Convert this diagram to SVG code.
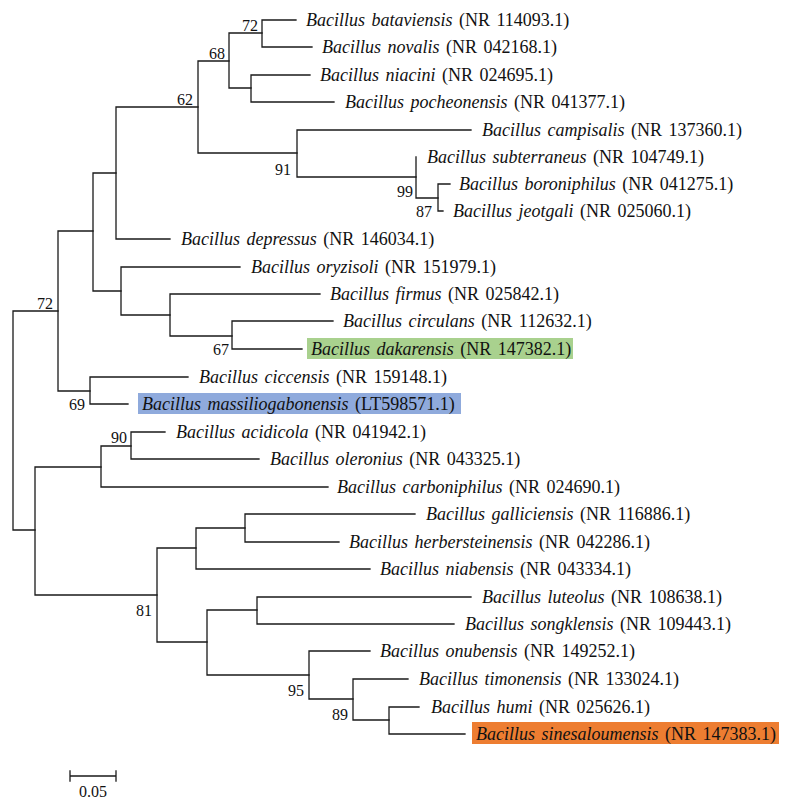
<svg xmlns="http://www.w3.org/2000/svg" width="787" height="802" viewBox="0 0 787 802">
<style>
.br{fill:none;stroke:#1a1a1a;stroke-width:1.3;stroke-linecap:square}
.lf{font-family:"Liberation Serif","Times New Roman",serif;font-size:18px;fill:#111;word-spacing:2px}
.lf .sp{font-style:italic}
.bs{font-family:"Liberation Serif","Times New Roman",serif;font-size:16px;fill:#111;text-anchor:end}
.sc{font-family:"Liberation Serif","Times New Roman",serif;font-size:16px;fill:#111;text-anchor:middle}
</style>
<rect width="787" height="802" fill="#fff"/>
<g id="highlights">
<rect x="307" y="338" width="266" height="21" fill="#a9d18e"/>
<rect x="138" y="393" width="323" height="21" fill="#8faadc"/>
<rect x="472" y="722" width="307" height="22" fill="#ed7d31"/>
</g>
<g id="connectors" class="br">
<path d="M13 311V530M13 311H58M13 530H35"/>
<path d="M58 231V391M58 231H93M58 391H90"/>
<path d="M93 173V291M93 173H116M93 291H121"/>
<path d="M116 107V239M116 107H198M116 239H170"/>
<path d="M198 61V153M198 61H229M198 153H297"/>
<path d="M229 33V88M229 33H262M229 88H251"/>
<path d="M262 20V47M262 20H296M262 47H312"/>
<path d="M251 75V102M251 75H310M251 102H334"/>
<path d="M297 130V177M297 130H471M297 177H416"/>
<path d="M416 157V198M416 198H438"/>
<path d="M438 184V211M438 184H450M438 211H443"/>
<path d="M121 267V315M121 267H240M121 315H170"/>
<path d="M170 294V336M170 294H320M170 336H232"/>
<path d="M232 321V349M232 321H333M232 349H302"/>
<path d="M90 377V404M90 377H188M90 404H128"/>
<path d="M35 467V595M35 467H101M35 595H157"/>
<path d="M101 446V487M101 446H131M101 487H328"/>
<path d="M131 432V459M131 432H165M131 459H259"/>
<path d="M157 548V642M157 548H196M157 642H207"/>
<path d="M196 528V569M196 528H245M196 569H370"/>
<path d="M245 514V542M245 514H415M245 542H339"/>
<path d="M207 610V675M207 610H257M207 675H309"/>
<path d="M257 597V624M257 597H471M257 624H454"/>
<path d="M309 651V699M309 651H370M309 699H353"/>
<path d="M353 679V720M353 679H408M353 720H389"/>
<path d="M389 707V734M389 707H419M389 734H465"/>
</g>
<g id="support">
<text class="bs" x="258" y="31">72</text>
<text class="bs" x="225" y="59">68</text>
<text class="bs" x="193" y="105">62</text>
<text class="bs" x="291" y="175">91</text>
<text class="bs" x="413" y="197">99</text>
<text class="bs" x="432" y="217">87</text>
<text class="bs" x="53" y="309">72</text>
<text class="bs" x="229" y="355">67</text>
<text class="bs" x="85" y="410">69</text>
<text class="bs" x="127" y="443">90</text>
<text class="bs" x="152" y="616">81</text>
<text class="bs" x="304" y="696">95</text>
<text class="bs" x="348" y="720">89</text>
</g>
<g id="n-bataviensis"><text class="lf" x="306" y="26"><tspan class="sp">Bacillus bataviensis</tspan> (NR 114093.1)</text></g>
<g id="n-novalis"><text class="lf" x="322" y="53"><tspan class="sp">Bacillus novalis</tspan> (NR 042168.1)</text></g>
<g id="n-niacini"><text class="lf" x="320" y="81"><tspan class="sp">Bacillus niacini</tspan> (NR 024695.1)</text></g>
<g id="n-pocheonensis"><text class="lf" x="345" y="108"><tspan class="sp">Bacillus pocheonensis</tspan> (NR 041377.1)</text></g>
<g id="n-campisalis"><text class="lf" x="482" y="136"><tspan class="sp">Bacillus campisalis</tspan> (NR 137360.1)</text></g>
<g id="n-subterraneus"><text class="lf" x="427" y="163"><tspan class="sp">Bacillus subterraneus</tspan> (NR 104749.1)</text></g>
<g id="n-boroniphilus"><text class="lf" x="459" y="190"><tspan class="sp">Bacillus boroniphilus</tspan> (NR 041275.1)</text></g>
<g id="n-jeotgali"><text class="lf" x="453" y="217"><tspan class="sp">Bacillus jeotgali</tspan> (NR 025060.1)</text></g>
<g id="n-depressus"><text class="lf" x="181" y="245"><tspan class="sp">Bacillus depressus</tspan> (NR 146034.1)</text></g>
<g id="n-oryzisoli"><text class="lf" x="251" y="273"><tspan class="sp">Bacillus oryzisoli</tspan> (NR 151979.1)</text></g>
<g id="n-firmus"><text class="lf" x="330" y="300"><tspan class="sp">Bacillus firmus</tspan> (NR 025842.1)</text></g>
<g id="n-circulans"><text class="lf" x="343" y="327"><tspan class="sp">Bacillus circulans</tspan> (NR 112632.1)</text></g>
<g id="n-dakarensis"><text class="lf" x="311" y="355"><tspan class="sp">Bacillus dakarensis</tspan> (NR 147382.1)</text></g>
<g id="n-ciccensis"><text class="lf" x="199" y="383"><tspan class="sp">Bacillus ciccensis</tspan> (NR 159148.1)</text></g>
<g id="n-massiliogabonensis"><text class="lf" x="142" y="410"><tspan class="sp">Bacillus massiliogabonensis</tspan> (LT598571.1)</text></g>
<g id="n-acidicola"><text class="lf" x="176" y="438"><tspan class="sp">Bacillus acidicola</tspan> (NR 041942.1)</text></g>
<g id="n-oleronius"><text class="lf" x="270" y="465"><tspan class="sp">Bacillus oleronius</tspan> (NR 043325.1)</text></g>
<g id="n-carboniphilus"><text class="lf" x="337" y="493"><tspan class="sp">Bacillus carboniphilus</tspan> (NR 024690.1)</text></g>
<g id="n-galliciensis"><text class="lf" x="426" y="520"><tspan class="sp">Bacillus galliciensis</tspan> (NR 116886.1)</text></g>
<g id="n-herbersteinensis"><text class="lf" x="349" y="548"><tspan class="sp">Bacillus herbersteinensis</tspan> (NR 042286.1)</text></g>
<g id="n-niabensis"><text class="lf" x="380" y="575"><tspan class="sp">Bacillus niabensis</tspan> (NR 043334.1)</text></g>
<g id="n-luteolus"><text class="lf" x="482" y="603"><tspan class="sp">Bacillus luteolus</tspan> (NR 108638.1)</text></g>
<g id="n-songklensis"><text class="lf" x="465" y="630"><tspan class="sp">Bacillus songklensis</tspan> (NR 109443.1)</text></g>
<g id="n-onubensis"><text class="lf" x="380" y="657"><tspan class="sp">Bacillus onubensis</tspan> (NR 149252.1)</text></g>
<g id="n-timonensis"><text class="lf" x="419" y="685"><tspan class="sp">Bacillus timonensis</tspan> (NR 133024.1)</text></g>
<g id="n-humi"><text class="lf" x="431" y="713"><tspan class="sp">Bacillus humi</tspan> (NR 025626.1)</text></g>
<g id="n-sinesaloumensis"><text class="lf" x="476" y="740"><tspan class="sp">Bacillus sinesaloumensis</tspan> (NR 147383.1)</text></g>
<g id="scalebar">
<path class="br" d="M70 776H116M70 771V781M116 771V781"/>
<text class="sc" x="93" y="797">0.05</text>
</g>
</svg>
